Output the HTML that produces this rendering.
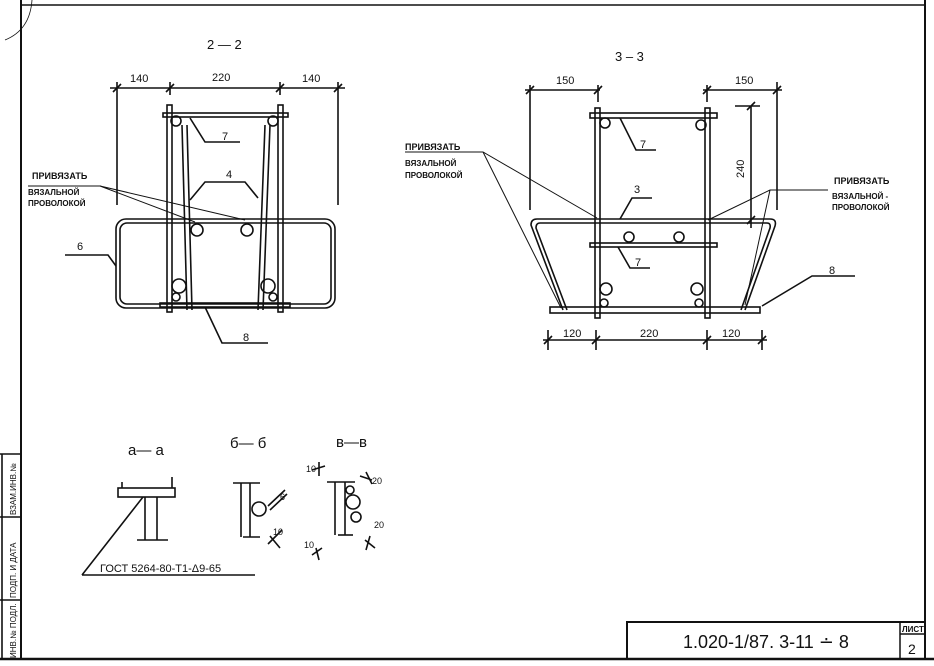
<!DOCTYPE html>
<html><head><meta charset="utf-8"><style>
html,body{margin:0;padding:0;background:#fff;}
svg{display:block}
text{font-family:"Liberation Sans","DejaVu Sans",sans-serif;fill:#111;}
</style></head><body>
<svg width="934" height="666" viewBox="0 0 934 666" xmlns="http://www.w3.org/2000/svg">
<rect width="934" height="666" fill="#fff"/>
<g stroke="#111" fill="none" stroke-width="1.6">
<line x1="21" y1="0" x2="21" y2="660" stroke-width="2"/>
<line x1="21" y1="5" x2="925" y2="5" stroke-width="1.5"/>
<line x1="925" y1="0" x2="925" y2="660" stroke-width="2"/>
<line x1="0" y1="659" x2="934" y2="659" stroke-width="2.5"/>
<line x1="0" y1="454" x2="21" y2="454"/>
<line x1="0" y1="517" x2="21" y2="517"/>
<line x1="0" y1="600" x2="21" y2="600"/>
<line x1="2" y1="454" x2="2" y2="659"/>
<path d="M5 40 Q30 30 32 0" stroke-width="0.8"/>
<rect x="627" y="622" width="298" height="37" stroke-width="2"/>
<line x1="900" y1="622" x2="900" y2="659" stroke-width="1.5"/>
<line x1="900" y1="634" x2="925" y2="634"/>

<line x1="110" y1="88" x2="345" y2="88"/>
<line x1="117" y1="82" x2="117" y2="205"/><line x1="338" y1="82" x2="338" y2="205"/>
<line x1="170" y1="82" x2="170" y2="95"/><line x1="280" y1="82" x2="280" y2="95"/>
<path d="M113 92l8-8M166 92l8-8M276 92l8-8M334 92l8-8"/>
<rect x="163" y="113" width="125" height="4"/>
<rect x="167" y="105" width="5" height="207"/><rect x="278" y="105" width="5" height="207"/>
<path d="M182 125L187 310M187 125L192 310M265 125L258 310M270 125L263 310"/>
<rect x="116" y="219" width="219" height="89" rx="10"/>
<rect x="120" y="223" width="211" height="81" rx="7"/>
<circle cx="176" cy="121" r="5"/><circle cx="273" cy="121" r="5"/>
<circle cx="197" cy="230" r="6"/><circle cx="247" cy="230" r="6"/>
<circle cx="179" cy="286" r="7"/><circle cx="176" cy="297" r="4"/>
<circle cx="268" cy="286" r="7"/><circle cx="273" cy="297" r="4"/>
<rect x="160" y="303" width="130" height="4"/>
<path d="M190 118L205 142L240 142"/>
<path d="M190 200L205 182L245 182L258 198"/>
<path d="M28 186L100 186L195 222M100 186L245 220" stroke-width="1"/>
<path d="M65 255L108 255L116 266"/>
<path d="M205 307L222 343L268 343"/>

<line x1="525" y1="90" x2="600" y2="90"/><line x1="703" y1="90" x2="782" y2="90"/>
<line x1="530" y1="85" x2="530" y2="210"/><line x1="598" y1="85" x2="598" y2="102"/>
<line x1="707" y1="85" x2="707" y2="102"/><line x1="777" y1="82" x2="777" y2="210"/>
<path d="M526 94l8-8M594 94l8-8M703 94l8-8M773 94l8-8"/>
<line x1="751" y1="106" x2="751" y2="228"/><path d="M747 110l8-8M747 224l8-8M735 106L760 106"/>
<rect x="590" y="113" width="127" height="5"/>
<rect x="595" y="108" width="5" height="210"/><rect x="705" y="108" width="5" height="210"/>
<circle cx="605" cy="123" r="5"/><circle cx="701" cy="125" r="5"/>
<path d="M563 310L531 225Q531 219 537 219L770 219Q777 219 775 226L745 310"/>
<path d="M567 310L536 228Q536 223 540 223L767 223Q771 223 770 228L741 310"/>
<rect x="590" y="243" width="127" height="4"/>
<circle cx="629" cy="237" r="5"/><circle cx="679" cy="237" r="5"/>
<circle cx="606" cy="289" r="6"/><circle cx="604" cy="303" r="4"/>
<circle cx="697" cy="289" r="6"/><circle cx="699" cy="303" r="4"/>
<rect x="550" y="307" width="210" height="6"/>
<line x1="543" y1="340" x2="767" y2="340"/>
<path d="M548 330V350M596 330V350M707 330V350M762 330V350"/>
<path d="M544 344l8-8M592 344l8-8M703 344l8-8M758 344l8-8"/>
<path d="M405 152L483 152L597 218M483 152L561 308" stroke-width="1"/>
<path d="M828 190L770 190L708 220M770 190L745 305" stroke-width="1"/>
<path d="M620 118L636 150L656 150"/>
<path d="M620 219L632 198L652 198"/>
<path d="M618 247L630 268L650 268"/>
<path d="M762 306L812 276L855 276"/>

<rect x="118" y="488" width="57" height="9"/>
<line x1="122" y1="482" x2="122" y2="488"/><line x1="172" y1="477" x2="172" y2="488"/>
<line x1="145" y1="497" x2="145" y2="540"/><line x1="157" y1="497" x2="157" y2="540"/>
<line x1="137" y1="540" x2="168" y2="540"/>
<path d="M82 575L255 575M82 575L143 497"/>
<line x1="241" y1="483" x2="241" y2="537"/><line x1="250" y1="483" x2="250" y2="537"/>
<line x1="233" y1="483" x2="260" y2="483"/><line x1="243" y1="537" x2="260" y2="537"/>
<circle cx="259" cy="509" r="7"/>
<path d="M268 506L285 490M270 510L287 494M268 544L282 530M270 536L280 548"/>
<line x1="335" y1="482" x2="335" y2="535"/><line x1="345" y1="482" x2="345" y2="535"/>
<line x1="327" y1="482" x2="355" y2="482"/><line x1="338" y1="535" x2="353" y2="535"/>
<circle cx="350" cy="490" r="4"/><circle cx="353" cy="502" r="7"/><circle cx="356" cy="517" r="5"/>
<path d="M312 470L325 466M360 476L372 480M365 540L375 548M312 555L322 548M319 462V476M366 472L372 484M370 536L366 550M316 548L319 560"/>
</g>
<g font-size="13">
<text x="207" y="49">2 — 2</text>
<text x="130" y="82" font-size="11">140</text><text x="212" y="81" font-size="11">220</text><text x="302" y="82" font-size="11">140</text>
<text x="222" y="140" font-size="11">7</text><text x="226" y="178" font-size="11">4</text>
<text x="77" y="250" font-size="11">6</text><text x="243" y="341" font-size="11">8</text>
<text x="32" y="179" font-size="9" font-weight="bold">ПРИВЯЗАТЬ</text>
<text x="28" y="195" font-size="8" font-weight="bold">ВЯЗАЛЬНОЙ</text>
<text x="28" y="206" font-size="8" font-weight="bold">ПРОВОЛОКОЙ</text>
<text x="615" y="61">3 – 3</text>
<text x="556" y="84" font-size="11">150</text><text x="735" y="84" font-size="11">150</text>
<text x="744" y="178" font-size="11" transform="rotate(-90 744 178)">240</text>
<text x="640" y="148" font-size="11">7</text><text x="634" y="193" font-size="11">3</text>
<text x="635" y="266" font-size="11">7</text><text x="829" y="274" font-size="11">8</text>
<text x="563" y="337" font-size="11">120</text><text x="640" y="337" font-size="11">220</text><text x="722" y="337" font-size="11">120</text>
<text x="405" y="150" font-size="9" font-weight="bold">ПРИВЯЗАТЬ</text>
<text x="405" y="166" font-size="8" font-weight="bold">ВЯЗАЛЬНОЙ</text>
<text x="405" y="178" font-size="8" font-weight="bold">ПРОВОЛОКОЙ</text>
<text x="834" y="184" font-size="9" font-weight="bold">ПРИВЯЗАТЬ</text>
<text x="832" y="199" font-size="8" font-weight="bold">ВЯЗАЛЬНОЙ -</text>
<text x="832" y="210" font-size="8" font-weight="bold">ПРОВОЛОКОЙ</text>
<text x="128" y="455" font-size="15">a— a</text>
<text x="230" y="448" font-size="15">б— б</text>
<text x="336" y="447" font-size="15">в—в</text>
<text x="100" y="572" font-size="11">ГОСТ 5264-80-Т1-Δ9-65</text>
<text x="280" y="500" font-size="9">6</text><text x="273" y="535" font-size="9">10</text>
<text x="306" y="472" font-size="9">10</text><text x="372" y="484" font-size="9">20</text>
<text x="374" y="528" font-size="9">20</text><text x="304" y="548" font-size="9">10</text>
<text x="683" y="648" font-size="18">1.020-1/87.  3-11 ∸ 8</text>
<text x="902" y="632" font-size="8" font-weight="bold">ЛИСТ</text>
<text x="908" y="654" font-size="14">2</text>
<text x="16" y="515" font-size="8" transform="rotate(-90 16 515)">ВЗАМ.ИНВ.№</text>
<text x="16" y="598" font-size="8" transform="rotate(-90 16 598)">ПОДП. И ДАТА</text>
<text x="16" y="658" font-size="8" transform="rotate(-90 16 658)">ИНВ.№ ПОДЛ.</text>
</g>
</svg>
</body></html>
